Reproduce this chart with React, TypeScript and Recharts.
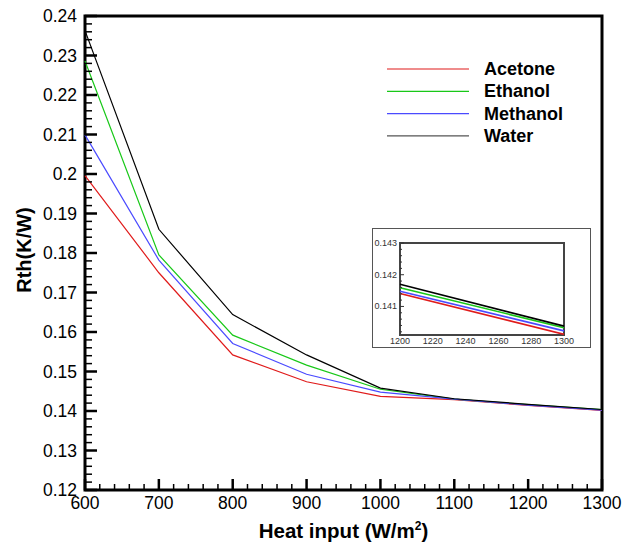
import React from "react";
import { LineChart, Line, XAxis, YAxis, ReferenceArea } from "recharts";

// heat input (W/m2) and thermal resistance Rth (K/W)
const heatInput = [600, 700, 800, 900, 1000, 1100, 1200, 1300];
const acetone = [0.1996, 0.175, 0.1542, 0.1474, 0.1437, 0.1429, 0.14141, 0.14012];
const ethanol = [0.2286, 0.1795, 0.1592, 0.1516, 0.1455, 0.143, 0.14159, 0.14033];
const methanol = [0.2099, 0.1782, 0.1571, 0.1493, 0.1448, 0.143, 0.14148, 0.14023];
const water = [0.2363, 0.186, 0.1644, 0.1542, 0.1458, 0.1431, 0.1417, 0.14038];

const seriesKeys = ["acetone", "ethanol", "methanol", "water"];
const seriesNames = ["Acetone", "Ethanol", "Methanol", "Water"];
const seriesColors = ["#e01b1b", "#18c818", "#4a4aff", "#000000"];

const xMajor = [600, 700, 800, 900, 1000, 1100, 1200, 1300];
const yMajor = [0.12, 0.13, 0.14, 0.15, 0.16, 0.17, 0.18, 0.19, 0.2, 0.21, 0.22, 0.23, 0.24];
const insetXMajor = [1200, 1220, 1240, 1260, 1280, 1300];
const insetYMajor = [0.141, 0.142, 0.143];

const FONT = "'Liberation Sans', Arial, sans-serif";

const rows = heatInput.map((h, i) => ({
  h,
  acetone: acetone[i],
  ethanol: ethanol[i],
  methanol: methanol[i],
  water: water[i],
}));
const insetRows = rows.filter((r) => r.h >= 1200);

// minor ticks between majors
function withMinor(major: number[], parts: number, digits: number) {
  const out: number[] = [];
  for (let i = 0; i < major.length - 1; i++) {
    const step = (major[i + 1] - major[i]) / parts;
    for (let k = 0; k < parts; k++) out.push(Number((major[i] + k * step).toFixed(digits)));
  }
  out.push(major[major.length - 1]);
  return out;
}

const xTicks = withMinor(xMajor, 5, 0);
const yTicks = withMinor(yMajor, 5, 4);
const insetYTicks = [0.1402, 0.1404, 0.1406, 0.1408, ...withMinor(insetYMajor, 5, 5)];

function MainXTick(props: any) {
  const { x, y, payload } = props;
  const major = xMajor.includes(payload.value);
  return (
    <g>
      <line x1={x} x2={x} y1={y} y2={y - (major ? 11 : 6)} stroke="#000" strokeWidth={major ? 2.5 : 1.5} />
      {major && (
        <text x={x} y={y + 19} textAnchor="middle" fontSize={17.5} fontFamily={FONT} fill="#000">
          {payload.value}
        </text>
      )}
    </g>
  );
}

function MainYTick(props: any) {
  const { x, y, payload } = props;
  const ax = x + 8;
  const major = yMajor.includes(payload.value);
  return (
    <g>
      <line x1={ax} x2={ax + (major ? 12 : 7)} y1={y} y2={y} stroke="#000" strokeWidth={major ? 2.5 : 1.5} />
      {major && (
        <text x={x} y={y + 6} textAnchor="end" fontSize={17.5} fontFamily={FONT} fill="#000">
          {payload.value}
        </text>
      )}
    </g>
  );
}

function InsetXTick(props: any) {
  const { x, y, payload } = props;
  return (
    <text x={x} y={y + 9} textAnchor="middle" fontSize={9} fontFamily={FONT} fill="#333">
      {payload.value}
    </text>
  );
}

function InsetYTick(props: any) {
  const { x, y, payload } = props;
  const ax = x + 3;
  const major = insetYMajor.includes(payload.value);
  return (
    <g>
      <line x1={ax} x2={ax + (major ? 4 : 2)} y1={y} y2={y} stroke="#333" strokeWidth={1} />
      {major && (
        <text x={x} y={y + 3} textAnchor="end" fontSize={9} fontFamily={FONT} fill="#333">
          {payload.value}
        </text>
      )}
    </g>
  );
}

function XTitle(props: any) {
  const { viewBox } = props;
  const cx = viewBox.x + viewBox.width / 2;
  return (
    <text x={cx} y={viewBox.y + 48} textAnchor="middle" fontSize={20.5} fontWeight="bold" fontFamily={FONT} fill="#000">
      Heat input (W/m
      <tspan fontSize={12} dy={-8}>2</tspan>
      <tspan dy={8}>)</tspan>
    </text>
  );
}

function YTitle() {
  const cx = 24;
  const cy = 250;
  return (
    <text
      x={cx}
      y={cy}
      transform={`rotate(-90 ${cx} ${cy})`}
      textAnchor="middle"
      dominantBaseline="central"
      fontSize={20}
      fontWeight="bold"
      fontFamily={FONT}
      fill="#000"
    >
      Rth(K/W)
    </text>
  );
}

// legend drawn by hand, top right of the plot
function LegendBox() {
  const ox = 10;
  const oy = 10;
  return (
    <svg
      width={230}
      height={110}
      style={{ position: "absolute", left: 387 - ox, top: 61 - oy, display: "block" }}
    >
      {seriesNames.map((n, i) => (
        <g key={n}>
          <line
            x1={ox}
            x2={ox + 82}
            y1={oy + 8 + i * 22.3}
            y2={oy + 8 + i * 22.3}
            stroke={i === 3 ? "#555" : seriesColors[i]}
            strokeWidth={1.2}
          />
          <text x={ox + 97} y={oy + 14 + i * 22.3} fontSize={18} fontWeight="bold" fontFamily={FONT} fill="#000">
            {n}
          </text>
        </g>
      ))}
    </svg>
  );
}

function Inset() {
  return (
    <div
      style={{
        position: "absolute",
        left: 372,
        top: 228,
        width: 219,
        height: 120,
        boxSizing: "border-box",
        border: "1px solid #555",
        background: "#fff",
      }}
    >
      <LineChart width={217} height={118} data={insetRows} margin={{ top: 14, right: 26, bottom: 0, left: 0 }}>
        <XAxis
          dataKey="h"
          type="number"
          domain={[1200, 1300]}
          ticks={insetXMajor}
          interval={0}
          tick={<InsetXTick />}
          tickSize={0}
          tickMargin={0}
          axisLine={false}
          height={12}
        />
        <YAxis
          type="number"
          domain={[0.1401, 0.143]}
          ticks={insetYTicks}
          interval={0}
          tick={<InsetYTick />}
          tickSize={0}
          tickMargin={3}
          axisLine={false}
          width={27}
          allowDataOverflow
        />
        {seriesKeys.map((k, i) => (
          <Line key={k} dataKey={k} stroke={seriesColors[i]} strokeWidth={1.6} dot={false} isAnimationActive={false} />
        ))}
        <ReferenceArea x1={1200} x2={1300} y1={0.1401} y2={0.143} fill="none" stroke="#444" strokeWidth={2} />
      </LineChart>
    </div>
  );
}

export default function App() {
  return (
    <div style={{ position: "absolute", left: 0, top: 0, width: 622, height: 549, fontFamily: FONT }}>
      <style>{`.recharts-surface { overflow: visible; }`}</style>
      <LineChart width={622} height={549} data={rows} margin={{ top: 16, right: 20, bottom: 19, left: 0 }}>
        <XAxis
          dataKey="h"
          type="number"
          domain={[600, 1300]}
          ticks={xTicks}
          interval={0}
          tick={<MainXTick />}
          tickSize={0}
          tickMargin={0}
          axisLine={false}
          height={40}
          label={<XTitle />}
        />
        <YAxis
          type="number"
          domain={[0.12, 0.24]}
          ticks={yTicks}
          interval={0}
          tick={<MainYTick />}
          tickSize={0}
          tickMargin={8}
          axisLine={false}
          width={85}
          label={<YTitle />}
        />
        {seriesKeys.map((k, i) => (
          <Line
            key={k}
            dataKey={k}
            name={seriesNames[i]}
            stroke={seriesColors[i]}
            strokeWidth={1.2}
            dot={false}
            isAnimationActive={false}
          />
        ))}
        <ReferenceArea x1={600} x2={1300} y1={0.12} y2={0.24} fill="none" stroke="#000" strokeWidth={3} />
      </LineChart>
      <LegendBox />
      <Inset />
    </div>
  );
}
